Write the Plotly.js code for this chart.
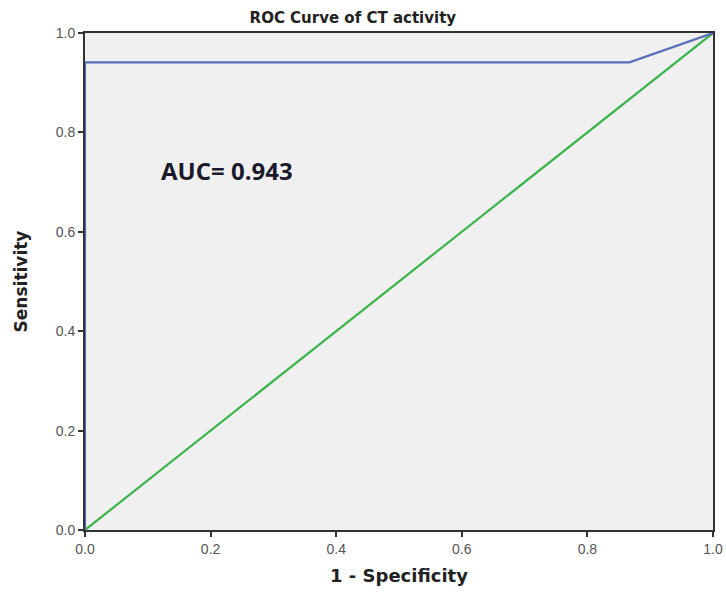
<!DOCTYPE html>
<html>
<head>
<meta charset="utf-8">
<script src="https://cdn.plot.ly/plotly-3.0.1.min.js"></script>
<style>html,body{margin:0;padding:0;background:#fff;}#chart{width:726px;height:592px;}</style>
</head>
<body>
<div id="chart"></div>
<script>
// ROC curve points (1 - Specificity, Sensitivity)
const rocFpr = [0.0, 0.0, 0.867, 1.0];
const rocTpr = [0.0, 0.941, 0.941, 1.0];
// Reference (chance) line
const refFpr = [0.0, 1.0];
const refTpr = [0.0, 1.0];
const tickVals = [0.0, 0.2, 0.4, 0.6, 0.8, 1.0];
const tickText = ["0.0", "0.2", "0.4", "0.6", "0.8", "1.0"];
const aucLabel = "AUC= 0.943";

const traces = [
  {x: refFpr, y: refTpr, mode: 'lines', line: {color: '#3cb44b', width: 2.2}, hoverinfo: 'skip'},
  {x: rocFpr, y: rocTpr, mode: 'lines', line: {color: '#5a6db8', width: 2.2}, hoverinfo: 'skip'}
];

const axisCommon = {
  range: [0, 1], tickvals: tickVals, ticktext: tickText,
  showgrid: false, zeroline: false,
  showline: true, linecolor: '#333', linewidth: 2, mirror: true,
  ticks: 'outside', ticklen: 5, tickwidth: 2, tickcolor: '#333',
  tickfont: {family: 'Liberation Sans, Arial, sans-serif', size: 14, color: '#555'}
};

const layout = {
  width: 726, height: 592,
  margin: {l: 85, r: 13, t: 33, b: 62},
  paper_bgcolor: '#ffffff', plot_bgcolor: '#f0f0f0',
  showlegend: false,
  title: {text: '<b>ROC Curve of CT activity</b>', x: 0.486, xanchor: 'center', y: 0.97, yanchor: 'middle',
          font: {family: 'DejaVu Sans, sans-serif', size: 15, color: '#222'}},
  xaxis: Object.assign({}, axisCommon, {
    title: {text: '<b>1 - Specificity</b>', standoff: 14,
            font: {family: 'DejaVu Sans, sans-serif', size: 18, color: '#222'}}
  }),
  yaxis: Object.assign({}, axisCommon, {
    title: {text: '<b>Sensitivity</b>', standoff: 24,
            font: {family: 'DejaVu Sans, sans-serif', size: 17, color: '#222'}}
  }),
  annotations: [{
    text: '<b>' + aucLabel + '</b>', xref: 'x', yref: 'y', x: 0.118, y: 0.723,
    xanchor: 'left', yanchor: 'middle', showarrow: false,
    font: {family: 'Open Sans, Liberation Sans, sans-serif', size: 24, color: '#1a1a2a'}
  }]
};

Plotly.newPlot('chart', traces, layout, {displayModeBar: false, staticPlot: true});
</script>
</body>
</html>
